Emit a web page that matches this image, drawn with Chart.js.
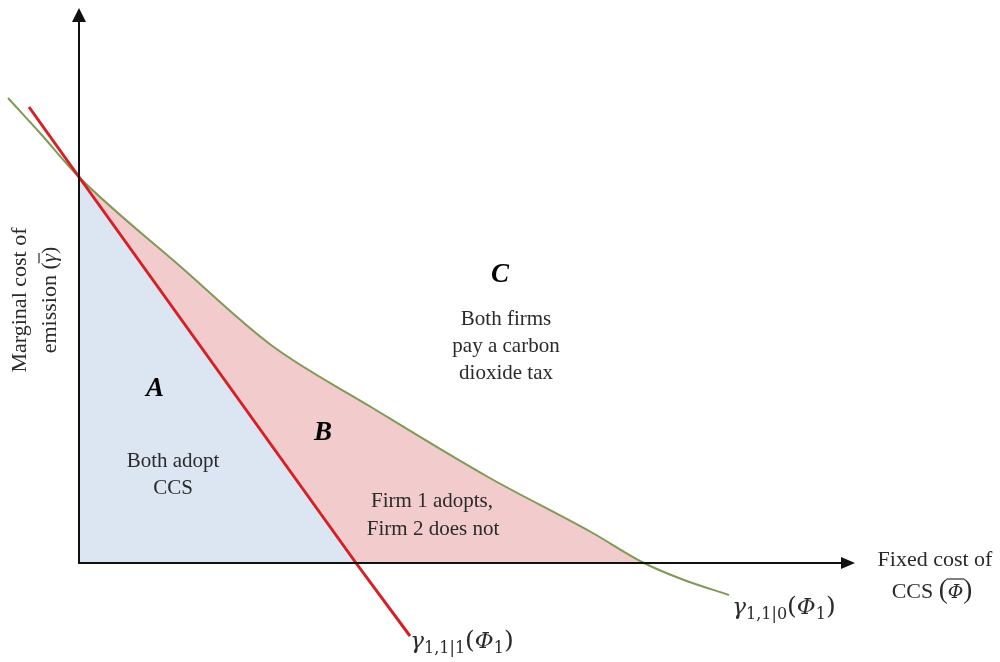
<!DOCTYPE html>
<html lang="en">
<head>
<meta charset="UTF-8">
<title>CCS adoption regions</title>
<style>
  body { margin: 0; background: #fff; }
  canvas { display: block; }
</style>
</head>
<body>
<canvas id="regionChart" width="1000" height="662"></canvas>
<script src="https://cdn.jsdelivr.net/npm/chart.js"></script>
<script>
// values, origin at the corner of the axes
const redX = [-0.50, 0, 2.77, 3.31];
const redY = [4.56, 3.86, 0, -0.73];
const greenX = [-0.71, -0.39, 0, 1.02, 1.92, 2.92, 4.09, 5.12, 5.65, 6.05, 6.50];
const greenY = [4.65, 4.30, 3.86, 2.96, 2.18, 1.56, 0.86, 0.31, 0, -0.17, -0.32];
const axisXEnd = 7.76;
const axisYEnd = 5.55;

const SERIF = '"Liberation Serif", "Times New Roman", serif';
const MATH = '"DejaVu Serif", serif';
const TEXT = '#2a2a2a';

function toPoints(xs, ys) {
    return xs.map((x, i) => ({ x: x, y: ys[i] }));
}
// only the part that lies in the first quadrant gets shaded
const inQuadrant = p => p.x >= 0 && p.y >= 0;

// draws a run of text pieces (different fonts / offsets) centred on cx
function drawRich(ctx, parts, cx, y) {
    let total = 0;
    parts.forEach(p => { ctx.font = p.font; p.w = ctx.measureText(p.t).width; total += p.w; });
    let x = cx - total / 2;
    parts.forEach(p => {
        ctx.font = p.font;
        ctx.fillText(p.t, x, y + (p.dy || 0));
        if (p.bar) {
            ctx.beginPath();
            ctx.lineWidth = 1.2;
            ctx.moveTo(x - 1, y - p.bar);
            ctx.lineTo(x + p.w + 1, y - p.bar);
            ctx.stroke();
        }
        x += p.w;
    });
}

const diagramPlugin = {
    id: 'diagram',
    beforeDraw(chart) {
        const ctx = chart.ctx;
        ctx.save();
        ctx.fillStyle = '#fff';
        ctx.fillRect(0, 0, chart.width, chart.height);
        ctx.restore();
    },
    afterDatasetsDraw(chart) {
        const ctx = chart.ctx;
        const xs = chart.scales.x, ys = chart.scales.y;
        const ox = xs.getPixelForValue(0), oy = ys.getPixelForValue(0);
        const ex = xs.getPixelForValue(axisXEnd), ey = ys.getPixelForValue(axisYEnd);
        ctx.save();
        ctx.strokeStyle = '#111';
        ctx.fillStyle = '#111';
        ctx.lineWidth = 2;
        ctx.beginPath();
        ctx.moveTo(ox, oy);
        ctx.lineTo(ox, ey + 10);
        ctx.moveTo(ox - 1, oy);
        ctx.lineTo(ex - 10, oy);
        ctx.stroke();
        // arrow heads
        ctx.beginPath();
        ctx.moveTo(ox, ey);
        ctx.lineTo(ox - 7, ey + 14);
        ctx.lineTo(ox + 7, ey + 14);
        ctx.closePath();
        ctx.fill();
        ctx.beginPath();
        ctx.moveTo(ex, oy);
        ctx.lineTo(ex - 14, oy - 6);
        ctx.lineTo(ex - 14, oy + 6);
        ctx.closePath();
        ctx.fill();
        ctx.restore();
    },
    afterDraw(chart) {
        const ctx = chart.ctx;
        ctx.save();
        ctx.fillStyle = TEXT;
        ctx.strokeStyle = TEXT;
        ctx.textAlign = 'left';
        ctx.textBaseline = 'alphabetic';

        const body = '21px ' + SERIF;
        const letter = 'bold italic 27px ' + SERIF;
        const centred = (t, x, y, f) => {
            ctx.font = f || body;
            ctx.textAlign = 'center';
            ctx.fillText(t, x, y);
            ctx.textAlign = 'left';
        };

        // region letters
        ctx.fillStyle = '#000';
        centred('A', 155, 396, letter);
        centred('B', 323, 440, letter);
        centred('C', 500, 282, letter);
        ctx.fillStyle = TEXT;

        // region notes
        centred('Both adopt', 173, 467);
        centred('CCS', 173, 494);
        centred('Both firms', 506, 325);
        centred('pay a carbon', 506, 352);
        centred('dioxide tax', 506, 379);
        centred('Firm 1 adopts,', 432, 507);
        centred('Firm 2 does not', 433, 535);

        // x axis title
        centred('Fixed cost of', 935, 566, '22px ' + SERIF);
        drawRich(ctx, [
            { t: 'CCS ', font: '22px ' + SERIF },
            { t: '(', font: '27px ' + SERIF },
            { t: 'Φ', font: 'italic 19px ' + MATH, bar: 19 },
            { t: ')', font: '27px ' + SERIF }
        ], 932, 598);

        // y axis title, rotated
        ctx.save();
        ctx.translate(26, 300);
        ctx.rotate(-Math.PI / 2);
        centred('Marginal cost of', 0, 0, '22px ' + SERIF);
        ctx.restore();
        ctx.save();
        ctx.translate(56, 300);
        ctx.rotate(-Math.PI / 2);
        drawRich(ctx, [
            { t: 'emission (', font: '22px ' + SERIF },
            { t: 'γ', font: 'italic 21px ' + SERIF, bar: 17 },
            { t: ')', font: '22px ' + SERIF }
        ], 0, 0);
        ctx.restore();

        // curve labels
        const g = 'italic 23px ' + MATH;
        const sub = '16px ' + MATH;
        const par = '25px ' + MATH;
        drawRich(ctx, [
            { t: 'γ', font: g },
            { t: '1,1|1', font: sub, dy: 5 },
            { t: '(', font: par },
            { t: 'Φ', font: g },
            { t: '1', font: sub, dy: 5 },
            { t: ')', font: par }
        ], 462, 648);
        drawRich(ctx, [
            { t: 'γ', font: g },
            { t: '1,1|0', font: sub, dy: 5 },
            { t: '(', font: par },
            { t: 'Φ', font: g },
            { t: '1', font: sub, dy: 5 },
            { t: ')', font: par }
        ], 784, 614);

        ctx.restore();
    }
};

const redPts = toPoints(redX, redY);
const greenPts = toPoints(greenX, greenY);

new Chart(document.getElementById('regionChart').getContext('2d'), {
    type: 'line',
    data: {
        datasets: [
            {
                label: 'γ1,1|1',
                data: redPts,
                borderColor: '#d71f26',
                borderWidth: 3,
                pointRadius: 0,
                fill: false,
                order: 0
            },
            {
                label: 'γ1,1|0',
                data: greenPts,
                borderColor: '#7f9a55',
                borderWidth: 2,
                pointRadius: 0,
                cubicInterpolationMode: 'monotone',
                fill: false,
                order: 1
            },
            {
                label: 'A',
                data: redPts.filter(inQuadrant),
                borderWidth: 0,
                pointRadius: 0,
                backgroundColor: '#dce6f2',
                fill: 'origin',
                order: 2
            },
            {
                label: 'B',
                data: greenPts.filter(inQuadrant),
                borderWidth: 0,
                pointRadius: 0,
                cubicInterpolationMode: 'monotone',
                backgroundColor: '#f2cbcc',
                fill: 'origin',
                order: 3
            }
        ]
    },
    options: {
        responsive: false,
        animation: false,
        layout: { padding: 0 },
        scales: {
            x: { type: 'linear', min: -0.79, max: 9.21, display: false },
            y: { type: 'linear', min: -0.99, max: 5.63, display: false }
        },
        plugins: {
            legend: { display: false },
            tooltip: { enabled: false }
        }
    },
    plugins: [diagramPlugin]
});
</script>
</body>
</html>
